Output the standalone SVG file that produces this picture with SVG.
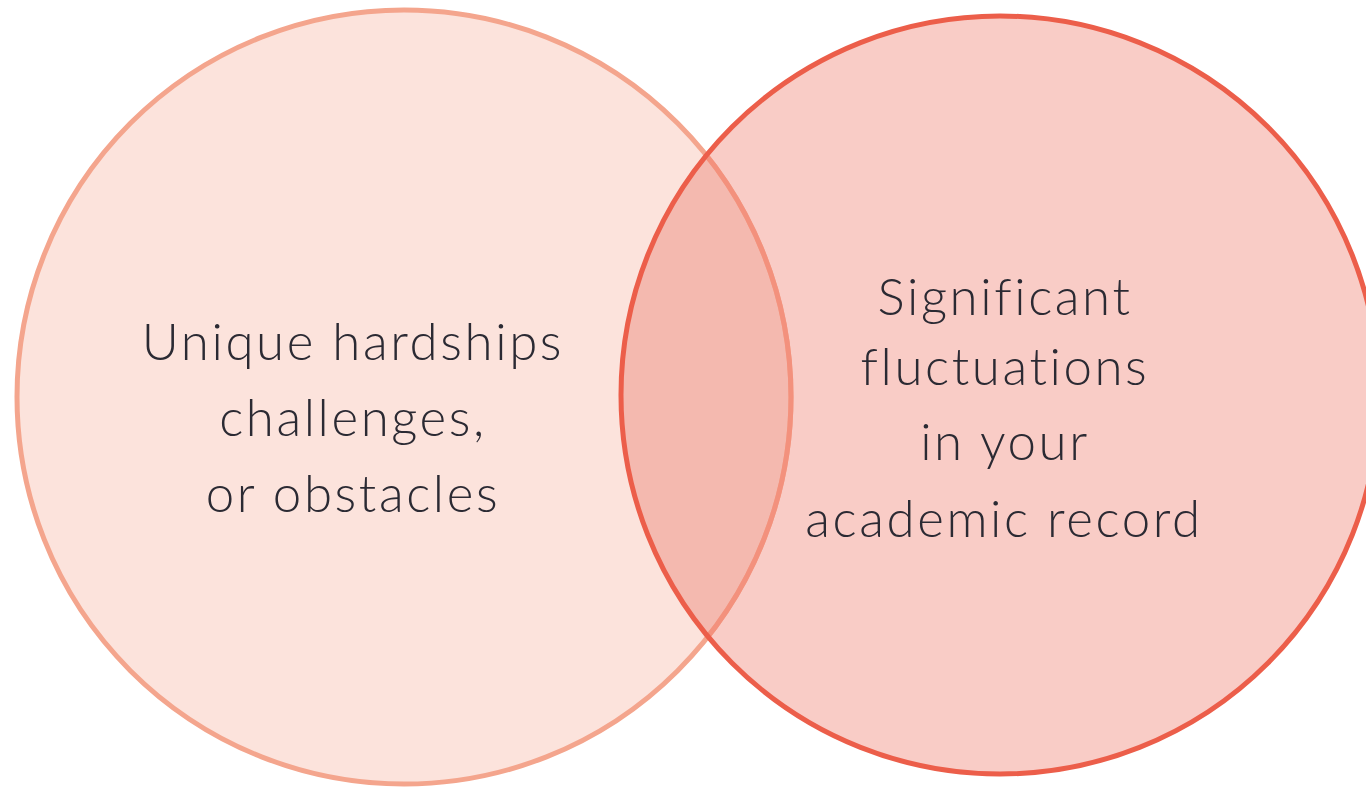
<svg xmlns="http://www.w3.org/2000/svg" width="1366" height="789" viewBox="0 0 1366 789">
<style>
.lbl{font-family:Lato,"Open Sans","Liberation Sans",sans-serif;font-weight:300;font-size:51px;letter-spacing:2.6px;fill:#2B2A33;text-anchor:middle}
</style>
<defs>
<clipPath id="clipR"><circle cx="1000" cy="395" r="379"/></clipPath>
</defs>
<rect width="1366" height="789" fill="#FFFFFF"/>
<g id="node-left-fill">
<circle cx="404" cy="397" r="387" fill="#FCE3DC"/>
</g>
<g id="node-right">
<circle cx="1000" cy="395" r="379" fill="#F9CCC6"/>
<circle cx="404" cy="397" r="387" fill="#F4B9AF" clip-path="url(#clipR)"/>
</g>
<g id="node-left">
<circle cx="404" cy="397" r="387" fill="none" stroke="#F4A58D" stroke-width="5"/>
<circle cx="404" cy="397" r="387" fill="none" stroke="#F3917D" stroke-width="5" clip-path="url(#clipR)"/>
<text class="lbl" x="353" y="360">Unique hardships</text>
<text class="lbl" x="353" y="436">challenges,</text>
<text class="lbl" x="353" y="512">or obstacles</text>
</g>
<g id="node-right-outline">
<circle cx="1000" cy="395" r="379" fill="none" stroke="#EC5E4A" stroke-width="5"/>
<text class="lbl" x="1005" y="315">Significant</text>
<text class="lbl" x="1005" y="385">fluctuations</text>
<text class="lbl" x="1005" y="460">in your</text>
<text class="lbl" x="1004" y="537">academic record</text>
</g>
<g id="connectors"></g>
</svg>
